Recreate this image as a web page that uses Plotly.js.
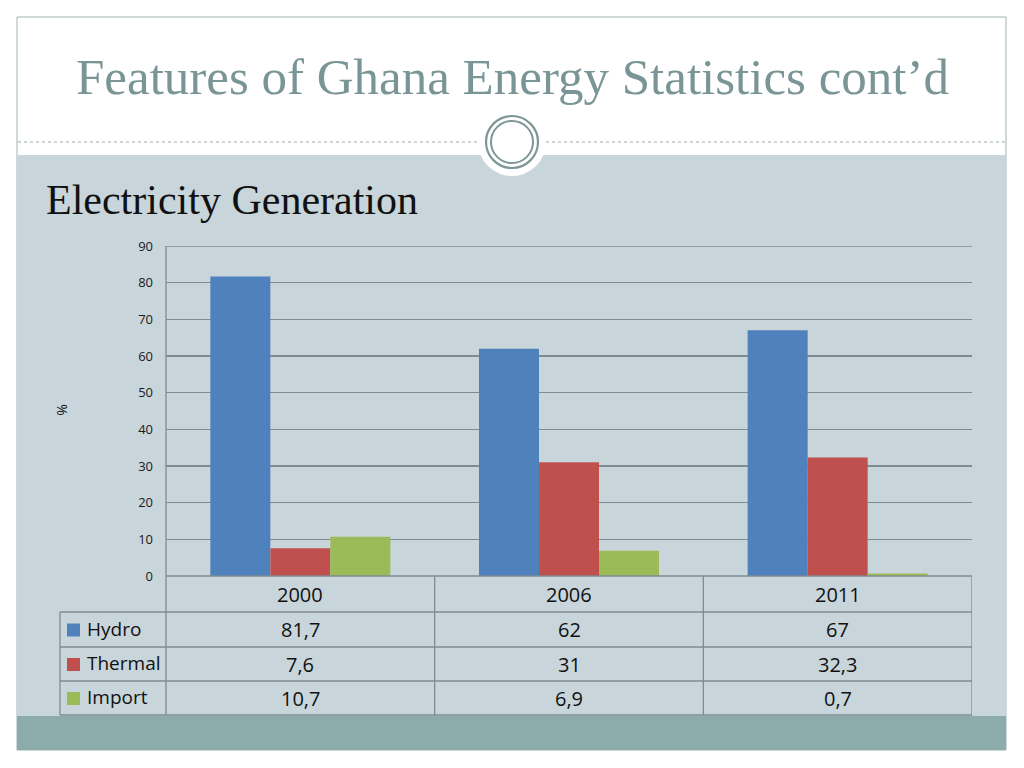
<!DOCTYPE html>
<html>
<head>
<meta charset="utf-8">
<script src="https://cdn.plot.ly/plotly-3.0.1.min.js"></script>
<style>html,body{margin:0;padding:0;background:#fff;}#chart{width:1024px;height:768px;}</style>
</head>
<body>
<div id="chart"></div>
<script>
const years = ["2000", "2006", "2011"];
const seriesNames = ["Hydro", "Thermal", "Import"];
const hydro = [81.7, 62, 67];
const thermal = [7.6, 31, 32.3];
const importVals = [10.7, 6.9, 0.7];
const yTicks = [0, 10, 20, 30, 40, 50, 60, 70, 80, 90];
const colors = ["#4F81BD", "#C0504D", "#9BBB59"];

const seriesVals = [hydro, thermal, importVals];

// plot-area pixel box
const L = 166, R = 972, T = 246, B = 576;
const W = 1024, H = 768;
const px = X => (X - L) / (R - L);
const py = Y => (B - Y) / (B - T);

const traces = seriesNames.map((n, i) => ({
  type: 'bar', name: n, x: years, y: seriesVals[i],
  marker: {color: colors[i], line: {width: 0}},
  hoverinfo: 'x+y+name'
}));

const lineCol = '#7F8B92';
const shapes = [];
// slide background pieces
shapes.push({type:'rect', xref:'paper', yref:'paper', x0:px(17), x1:px(1006), y0:py(17), y1:py(750), fillcolor:'#FFFFFF', line:{color:'#9FB3B3', width:1}, layer:'below'});
shapes.push({type:'rect', xref:'paper', yref:'paper', x0:px(17), x1:px(1006), y0:py(155), y1:py(716), fillcolor:'#C8D5DA', line:{width:0}, layer:'below'});
shapes.push({type:'rect', xref:'paper', yref:'paper', x0:px(17), x1:px(1006), y0:py(716), y1:py(750), fillcolor:'#8CABAB', line:{width:0}, layer:'below'});
// dotted separator
shapes.push({type:'line', xref:'paper', yref:'paper', x0:px(18), x1:px(478), y0:py(142), y1:py(142), line:{color:'#9AA8A8', width:1, dash:'dot'}, layer:'below'});
shapes.push({type:'line', xref:'paper', yref:'paper', x0:px(546), x1:px(1005), y0:py(142), y1:py(142), line:{color:'#9AA8A8', width:1, dash:'dot'}, layer:'below'});
// circle ornament
shapes.push({type:'circle', xref:'paper', yref:'paper', x0:px(478), x1:px(546), y0:py(108), y1:py(176), fillcolor:'#FFFFFF', line:{width:0}, layer:'below'});
shapes.push({type:'circle', xref:'paper', yref:'paper', x0:px(486), x1:px(538), y0:py(116), y1:py(168), fillcolor:'rgba(0,0,0,0)', line:{color:'#7D9696', width:2.2}, layer:'below'});
shapes.push({type:'circle', xref:'paper', yref:'paper', x0:px(491), x1:px(533), y0:py(121), y1:py(163), fillcolor:'rgba(0,0,0,0)', line:{color:'#7D9696', width:2}, layer:'below'});

// top gridline at max tick
shapes.push({type:'line', xref:'paper', yref:'y', x0:0, x1:1, y0:yTicks[yTicks.length-1], y1:yTicks[yTicks.length-1], line:{color:lineCol, width:1.3}, layer:'below'});

// data table grid
const rowY = [576, 612, 647, 681, 715];
shapes.push({type:'line', xref:'paper', yref:'paper', x0:px(166), x1:px(972), y0:py(576), y1:py(576), line:{color:lineCol, width:1.3}});
for (let r = 1; r < rowY.length; r++) {
  shapes.push({type:'line', xref:'paper', yref:'paper', x0:px(60), x1:px(972), y0:py(rowY[r]), y1:py(rowY[r]), line:{color:lineCol, width:1.3}});
}
shapes.push({type:'line', xref:'paper', yref:'paper', x0:px(60), x1:px(60), y0:py(612), y1:py(715), line:{color:lineCol, width:1.3}});
shapes.push({type:'line', xref:'paper', yref:'paper', x0:px(166), x1:px(166), y0:py(246), y1:py(715), line:{color:lineCol, width:1.3}});
[0.5, 1.5, 2.5].forEach(v => {
  shapes.push({type:'line', xref:'x', yref:'paper', x0:v, x1:v, y0:py(576), y1:py(715), line:{color:lineCol, width:1.3}});
});

const annotations = [];
annotations.push({xref:'paper', yref:'paper', x:px(512), y:py(77), text:'Features of Ghana Energy Statistics cont\u2019d', showarrow:false, xanchor:'center', yanchor:'middle', font:{family:'Liberation Serif, serif', size:51, color:'#7A9595'}});
annotations.push({xref:'paper', yref:'paper', x:px(44), y:py(200), text:'Electricity Generation', showarrow:false, xanchor:'left', yanchor:'middle', font:{family:'Liberation Serif, serif', size:42, color:'#111111'}});
annotations.push({xref:'paper', yref:'paper', x:px(63), y:py(410), text:'%', showarrow:false, textangle:90, xanchor:'center', yanchor:'middle', font:{family:'Open Sans, sans-serif', size:14, color:'#111'}});

const tFont = {family:'Open Sans, Noto Sans, sans-serif', size:20, color:'#111111'};
years.forEach((yr, c) => {
  annotations.push({xref:'x', yref:'paper', x:c, y:py(594), text:yr, showarrow:false, xanchor:'center', yanchor:'middle', font:tFont});
  seriesVals.forEach((vals, r) => {
    annotations.push({xref:'x', yref:'paper', x:c, y:py((rowY[r+1]+rowY[r+2])/2), text:String(vals[c]).replace('.', ','), showarrow:false, xanchor:'center', yanchor:'middle', font:tFont});
  });
});
seriesNames.forEach((n, r) => {
  const yc = (rowY[r+1]+rowY[r+2])/2;
  shapes.push({type:'rect', xref:'paper', yref:'paper', x0:px(67), x1:px(80), y0:py(yc-6), y1:py(yc+7), fillcolor:colors[r], line:{width:0}});
  annotations.push({xref:'paper', yref:'paper', x:px(85), y:py(yc - 1), text:n, showarrow:false, xanchor:'left', yanchor:'middle', font:{family:'Open Sans, Noto Sans, sans-serif', size:19, color:'#111'}});
});

const layout = {
  width: W, height: H,
  margin: {l: L, r: W - R, t: T, b: H - B, pad: 0},
  paper_bgcolor: 'rgba(0,0,0,0)',
  plot_bgcolor: 'rgba(0,0,0,0)',
  showlegend: false,
  barmode: 'group',
  bargap: 0.33,
  bargroupgap: 0,
  xaxis: {type:'category', showticklabels:false, ticks:'', showgrid:false, zeroline:false, showline:false, range:[-0.5, 2.5], fixedrange:true},
  yaxis: {range:[0, 90], tickvals:yTicks, showgrid:true, gridcolor:lineCol, gridwidth:1.3, zeroline:false, showline:false,
          ticks:'', ticklabelstandoff:12, tickfont:{family:'Open Sans, sans-serif', size:13, color:'#1a1a1a'}, fixedrange:true},
  shapes: shapes,
  annotations: annotations
};

Plotly.newPlot('chart', traces, layout, {displayModeBar:false, staticPlot:true});
</script>
</body>
</html>
